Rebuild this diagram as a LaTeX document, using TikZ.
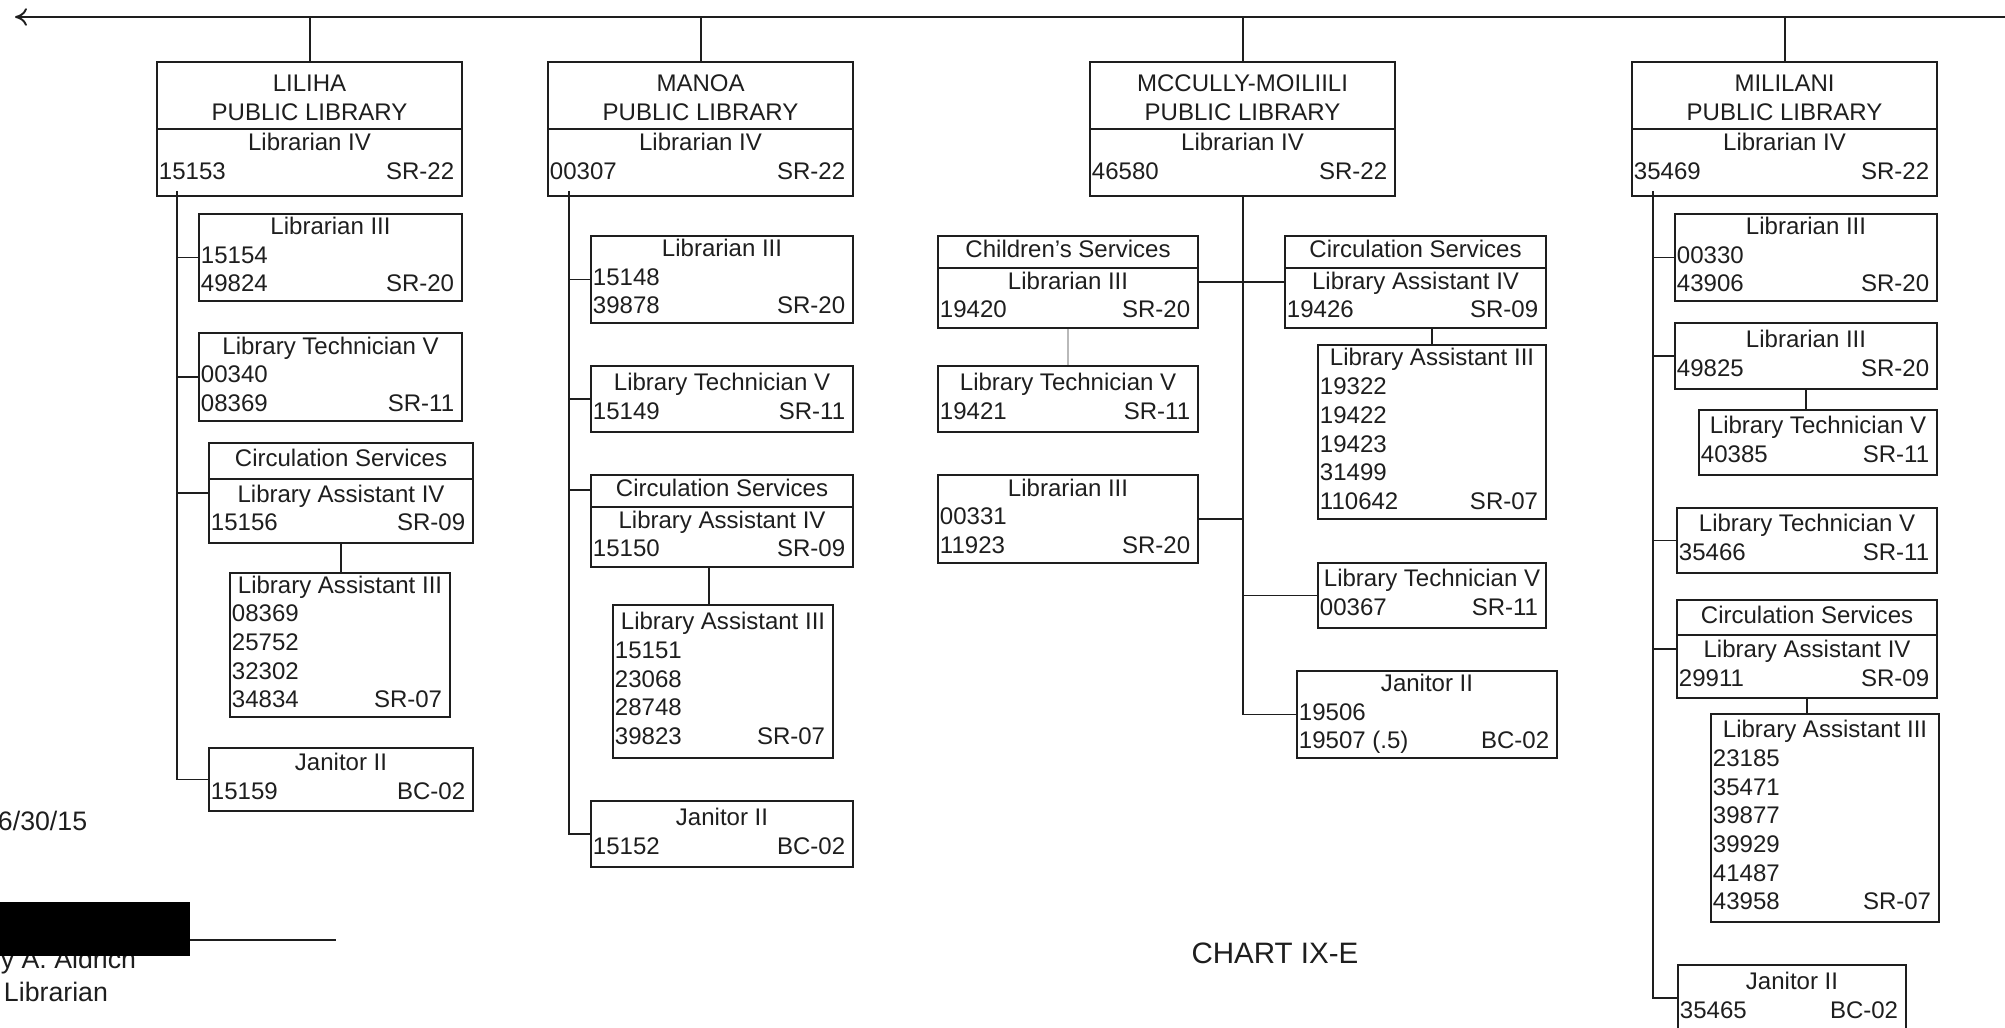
\documentclass[tikz,border=0pt]{standalone}
\usepackage{fontspec}
\setmainfont{Liberation Sans}
\usepackage{array}
\usepackage{tikz}
\usetikzlibrary{shapes.multipart, arrows.meta, calc}
\usepackage{xcolor}
\definecolor{ink}{HTML}{1E1E1E}
\newcommand{\rowsbox}[2]{\begin{tabular*}{#1}{@{\hspace{0.02cm}}l@{\extracolsep{\fill}}r@{\hspace{0.08cm}}}#2\end{tabular*}}
\newcommand{\hdrows}[2]{\begin{tabular}{@{}>{\centering\arraybackslash}p{#1}@{}}#2\end{tabular}}
\newcommand{\hd}[1]{\multicolumn{2}{@{}c@{}}{#1}}
\newcommand{\libtop}[2]{\raisebox{-0.045cm}[\height][\depth]{\hdrows{#1}{#2}}}
\newcommand{\libbot}[2]{\raisebox{0.035cm}[\height][\depth]{\rowsbox{#1}{#2}}}

\begin{document}
\begin{tikzpicture}[
    x=0.01cm, y=-0.01cm,
    line width=0.55pt, ink,
    box/.style={draw=ink, text=ink, anchor=north west, inner sep=0pt, font=\fontsize{6.83}{8.17}\selectfont},
    hbox/.style={box, rectangle split, rectangle split parts=2, inner ysep=0.025cm},
    lbl/.style={text=ink, inner sep=0pt, font=\fontsize{7.6}{9}\selectfont},
    chart/.style={text=ink, inner sep=0pt, font=\fontsize{8.4}{10}\selectfont}
]
    \useasboundingbox (0,0) rectangle (2005,1028);

    \node[hbox, inner ysep=0.038cm] (lil) at (156,61) {\libtop{3.05cm}{LILIHA\\ PUBLIC LIBRARY}\nodepart{two}\libbot{3.05cm}{\hd{Librarian IV}\\ 15153 & SR-22}};
    \node[box, minimum height=0.87cm] (lilA) at (198,213) {\rowsbox{2.63cm}{\hd{Librarian III}\\ 15154 & \\ 49824 & SR-20}};
    \node[box, minimum height=0.88cm] (lilB) at (198,332) {\rowsbox{2.63cm}{\hd{Library Technician V}\\ 00340 & \\ 08369 & SR-11}};
    \node[hbox] (lilC) at (208,442) {\hdrows{2.64cm}{Circulation Services}\nodepart{two}\rowsbox{2.64cm}{\hd{Library Assistant IV}\\ 15156 & SR-09}};
    \node[box, minimum height=1.40cm] (lilD) at (229,572) {\rowsbox{2.20cm}{\hd{Library Assistant III}\\ 08369 & \\ 25752 & \\ 32302 & \\ 34834 & SR-07}};
    \node[box, minimum height=0.63cm] (lilE) at (208,747) {\rowsbox{2.64cm}{\hd{Janitor II}\\ 15159 & BC-02}};

    \node[hbox, inner ysep=0.038cm] (man) at (547,61) {\libtop{3.05cm}{MANOA\\ PUBLIC LIBRARY}\nodepart{two}\libbot{3.05cm}{\hd{Librarian IV}\\ 00307 & SR-22}};
    \node[box, minimum height=0.87cm] (manA) at (590,235) {\rowsbox{2.62cm}{\hd{Librarian III}\\ 15148 & \\ 39878 & SR-20}};
    \node[box, minimum height=0.66cm] (manB) at (590,365) {\rowsbox{2.62cm}{\hd{Library Technician V}\\ 15149 & SR-11}};
    \node[hbox, inner ysep=0.005cm] (manC) at (590,474) {\hdrows{2.62cm}{Circulation Services}\nodepart{two}\rowsbox{2.62cm}{\hd{Library Assistant IV}\\ 15150 & SR-09}};
    \node[box, minimum height=1.53cm] (manD) at (612,604) {\rowsbox{2.20cm}{\hd{Library Assistant III}\\ 15151 & \\ 23068 & \\ 28748 & \\ 39823 & SR-07}};
    \node[box, minimum height=0.66cm] (manE) at (590,800) {\rowsbox{2.62cm}{\hd{Janitor II}\\ 15152 & BC-02}};

    \node[hbox, inner ysep=0.038cm] (mcc) at (1089,61) {\libtop{3.05cm}{MCCULLY-MOILIILI\\ PUBLIC LIBRARY}\nodepart{two}\libbot{3.05cm}{\hd{Librarian IV}\\ 46580 & SR-22}};
    \node[hbox, inner ysep=0.005cm] (mccA) at (937,235) {\hdrows{2.60cm}{Children's Services}\nodepart{two}\rowsbox{2.60cm}{\hd{Librarian III}\\ 19420 & SR-20}};
    \node[hbox, inner ysep=0.005cm] (mccB) at (1284,235) {\hdrows{2.61cm}{Circulation Services}\nodepart{two}\rowsbox{2.61cm}{\hd{Library Assistant IV}\\ 19426 & SR-09}};
    \node[box, minimum height=0.66cm] (mccC) at (937,365) {\rowsbox{2.60cm}{\hd{Library Technician V}\\ 19421 & SR-11}};
    \node[box, minimum height=1.74cm] (mccD) at (1317,344) {\rowsbox{2.28cm}{\hd{Library Assistant III}\\ 19322 & \\ 19422 & \\ 19423 & \\ 31499 & \\ 110642 & SR-07}};
    \node[box, minimum height=0.88cm] (mccE) at (937,474) {\rowsbox{2.60cm}{\hd{Librarian III}\\ 00331 & \\ 11923 & SR-20}};
    \node[box, minimum height=0.65cm] (mccF) at (1317,562) {\rowsbox{2.28cm}{\hd{Library Technician V}\\ 00367 & SR-11}};
    \node[box, minimum height=0.87cm] (mccG) at (1296,670) {\rowsbox{2.60cm}{\hd{Janitor II}\\ 19506 & \\ 19507 (.5) & BC-02}};

    \node[hbox, inner ysep=0.038cm] (mil) at (1631,61) {\libtop{3.05cm}{MILILANI\\ PUBLIC LIBRARY}\nodepart{two}\libbot{3.05cm}{\hd{Librarian IV}\\ 35469 & SR-22}};
    \node[box, minimum height=0.87cm] (milA) at (1674,213) {\rowsbox{2.62cm}{\hd{Librarian III}\\ 00330 & \\ 43906 & SR-20}};
    \node[box, minimum height=0.66cm] (milB) at (1674,322) {\rowsbox{2.62cm}{\hd{Librarian III}\\ 49825 & SR-20}};
    \node[box, minimum height=0.65cm] (milC) at (1698,409) {\rowsbox{2.38cm}{\hd{Library Technician V}\\ 40385 & SR-11}};
    \node[box, minimum height=0.65cm] (milD) at (1676,507) {\rowsbox{2.60cm}{\hd{Library Technician V}\\ 35466 & SR-11}};
    \node[hbox, inner ysep=0.02cm] (milE) at (1676,599) {\hdrows{2.60cm}{Circulation Services}\nodepart{two}\rowsbox{2.60cm}{\hd{Library Assistant IV}\\ 29911 & SR-09}};
    \node[box, minimum height=2.08cm] (milF) at (1710,713) {\rowsbox{2.28cm}{\hd{Library Assistant III}\\ 23185 & \\ 35471 & \\ 39877 & \\ 39929 & \\ 41487 & \\ 43958 & SR-07}};
    \node[box, minimum height=0.66cm] (milG) at (1677,964) {\rowsbox{2.28cm}{\hd{Janitor II}\\ 35465 & BC-02}};

    \coordinate (tipL) at (15,17);
    \coordinate (tipR) at (2010,17);
    \draw[-{To[length=3.4pt,width=5pt]}] (tipR) -- (tipL);
    \foreach \n in {lil,man,mcc,mil}
        \draw (\n.north) -- (\n.north |- tipL);

    \coordinate (lilS) at (177,191);
    \draw (lilS) |- (lilE.west);
    \foreach \n in {lilA,lilB,lilC}
        \draw (\n.west) -- (\n.west -| lilS);
    \draw (lilC.south) -- (lilC.south |- lilD.north);

    \coordinate (manS) at (569,191);
    \coordinate (manH) at ($(manC.north west)!0.5!(manC.text split west)$);
    \draw (manS) |- (manE.west);
    \foreach \n in {manA,manB}
        \draw (\n.west) -- (\n.west -| manS);
    \draw (manH) -- (manH -| manS);
    \draw ([xshift=-0.14cm]manD.north) -- ([xshift=-0.14cm]manD.north |- manC.south);

    \draw (mcc.south) |- (mccG.west);
    \draw (mccA.east) -- (mccB.west);
    \draw (mccE.east) -- (mccE.east -| mcc.south);
    \draw (mccF.west) -- (mccF.west -| mcc.south);
    \draw[gray!55] (mccA.south) -- (mccC.north);
    \draw (mccB.south -| mccD.north) -- (mccD.north);

    \coordinate (milS) at (1653,191);
    \draw (milS) |- (milG.west);
    \foreach \n in {milA,milB,milD,milE}
        \draw (\n.west) -- (\n.west -| milS);
    \draw (milB.south) -- (milB.south |- milC.north);
    \draw (milE.south) -- (milE.south |- milF.north);

    \node[lbl, anchor=base west] (date) at (-3,831) {6/30/15};
    \node[lbl, anchor=base east] (signer) at (137,969) {y A. Aldrich};
    \fill[black] (-5,902) rectangle (190,956);
    \draw (190,940) -- (336,940);
    \node[lbl, anchor=base west] (role) at (3,1002) {Librarian};
    \node[chart] (title) at (1275,953) {CHART IX-E};
\end{tikzpicture}
\end{document}
